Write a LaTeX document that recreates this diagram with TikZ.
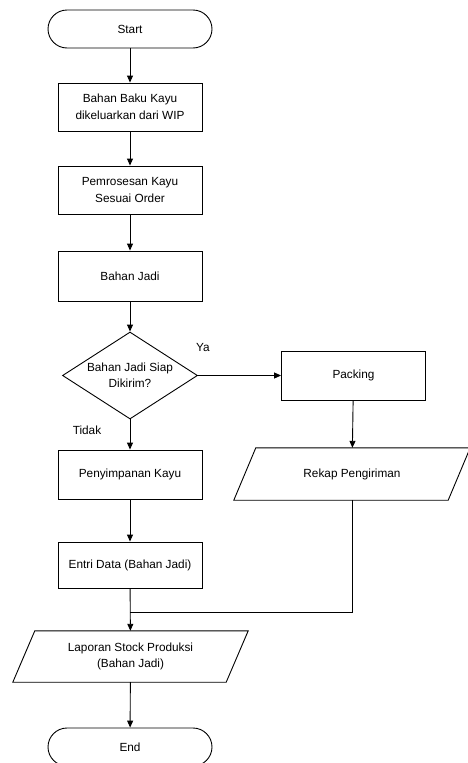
\documentclass[tikz,border=0pt]{standalone}
\usepackage{fontspec}
\setmainfont{Liberation Sans}
\usetikzlibrary{shapes.geometric,arrows.meta,calc}
\begin{document}
\begin{tikzpicture}[x=1pt,y=-1pt,
  every node/.style={font=\fontsize{11.8}{16.5}\selectfont, align=center, inner sep=0pt},
  proc/.style={draw, line width=0.9pt, minimum width=144pt, minimum height=48pt},
  term/.style={draw, line width=0.9pt, rectangle, rounded corners=19pt, minimum width=164pt, minimum height=38pt},
  dec/.style={draw, line width=0.9pt, diamond, aspect=1.55, minimum width=135pt, minimum height=87pt},
  iobox/.style={minimum width=213pt, minimum height=51pt},
  flow/.style={line width=0.9pt, -{Triangle[length=7pt,width=6pt]}},
  plain/.style={line width=0.9pt}]
\useasboundingbox (0,0) rectangle (467,763);
\node[term] (start) at (130,29) {Start};
\node[proc] (b1) at (130,107) {Bahan Baku Kayu\\dikeluarkan dari WIP};
\node[proc] (b2) at (130,190) {Pemrosesan Kayu\\Sesuai Order};
\node[proc, minimum height=50pt] (b3) at (130,276) {Bahan Jadi};
\node[dec] (d) at (130,375.5) {};
\node at (130,375) {Bahan Jadi Siap\\Dikirim?};
\node[proc, minimum height=49pt] (pack) at (353.5,375.5) {Packing};
\node[proc, minimum height=49pt] (b4) at (130,474.5) {Penyimpanan Kayu};
\node[iobox, minimum height=52pt, minimum width=214pt] (rekap) at (352,474) {Rekap Pengiriman};
\draw[plain] ($(rekap.north west)+(11,0)$) -- ($(rekap.north east)+(11,0)$) -- ($(rekap.south east)+(-11,0)$) -- ($(rekap.south west)+(-11,0)$) -- cycle;
\node[proc, minimum height=46pt] (b5) at (130,565) {Entri Data (Bahan Jadi)};
\node[iobox] (lap) at (130.5,656.5) {Laporan Stock Produksi\\(Bahan Jadi)};
\draw[plain] ($(lap.north west)+(11,0)$) -- ($(lap.north east)+(11,0)$) -- ($(lap.south east)+(-11,0)$) -- ($(lap.south west)+(-11,0)$) -- cycle;
\node[term] (end) at (130,747) {End};
\coordinate (merge) at (130,612);
\node (ya) at (203,347) {Ya};
\node (tidak) at (87,430) {Tidak};
\draw[flow] (start) -- (b1);
\draw[flow] (b1) -- (b2);
\draw[flow] (b2) -- (b3);
\draw[flow] (b3) -- (d);
\draw[flow] (d.east) -- (pack.west);
\draw[flow] (d.south) -- (b4.north);
\draw[flow] (pack) -- (rekap);
\draw[flow] (b4) -- (b5);
\draw[plain] (rekap.south) |- (merge);
\draw[flow] (b5) -- (lap);
\draw[flow] (lap) -- (end);
\end{tikzpicture}
\end{document}
